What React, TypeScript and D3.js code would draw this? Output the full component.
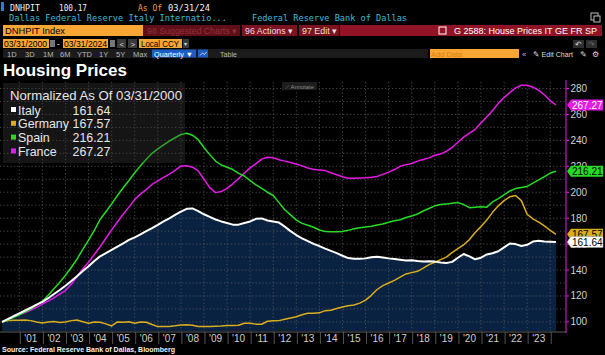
import React from 'react';
import * as d3 from 'd3';

// ---------- DATA (quarterly, 03/31/2000 = 100) ----------
const START = 2000.25;
const N_Q = 97;
const dates: number[] = d3.range(N_Q).map((i) => START + i * 0.25);

const italy = [
  100, 102.2, 104.4,
  106.6, 108.8, 111, 113.3,
  115.4, 118.3, 121.5, 124.6,
  127.9, 131.5, 135.3, 139.2,
  143, 147, 150.6, 153,
  155.5, 158, 160.5, 163.2,
  165.2, 167.5, 170, 172.3,
  174.8, 177.5, 179.8, 182.5,
  185, 187.2, 187.5, 185.5,
  183, 181, 179, 177.5,
  176.3, 175, 175, 176.3,
  177.5, 179.5, 179.8, 178.2,
  177.5, 176.6, 173.5, 170,
  167, 164.5, 162.3, 160.2,
  158.5, 156.5, 154.8, 153,
  151, 149.2, 148.7, 148.7,
  149, 149.8, 150.2, 149.6,
  149, 148.6, 148, 147.4,
  147.5, 147, 146.6, 146.8,
  146.5, 145.8, 145.5, 146.3,
  149.5, 152.4, 150.5, 148.3,
  149.5, 152, 153, 154.5,
  157.5, 160.5, 160, 158.6,
  159.5, 162, 162.5, 162,
  161.8, 161.64,
];

const germany = [
  100, 101, 101.2,
  101.3, 101.5, 101, 100,
  99.2, 100, 100.4, 99.5,
  100, 101, 101.5, 100.2,
  99, 100, 99.8, 98.5,
  96.9, 100, 99.8, 100.2,
  99, 100, 99.8, 98,
  96.4, 96.4, 96.5, 97,
  97.7, 97.9, 97.4, 96.4,
  96.5, 96.4, 96.6, 96.8,
  97.2, 97.3, 97.4, 99,
  99, 98.3, 98.2, 100.5,
  100.9, 101, 102, 103,
  104, 105.5, 106.7, 106.7,
  107, 108.7, 109, 110.4,
  111.5, 112.5, 113.1, 114.5,
  116.8, 120.5, 125, 128,
  130, 132, 134.5, 137,
  138, 139, 141.5, 144.2,
  146, 148, 150, 153.5,
  156.5, 159.5, 163.5, 169,
  173.5, 178.5, 184.5, 189.5,
  193.5, 196.5, 197.5, 193.5,
  183, 179.5, 177, 174,
  170.5, 167.57,
];

const spain = [
  100, 101.5, 103.5,
  105.5, 107.8, 110, 113,
  116, 120.5, 125.5, 130.5,
  136, 142, 148.5, 156,
  163, 170.5, 179, 185,
  191, 197.5, 203.5, 209,
  215, 220.5, 225.5, 230,
  233.5, 236.5, 239.5, 242,
  244.5, 245.5, 244, 240.5,
  234.5, 229, 224, 221,
  219.3, 217.5, 214.5, 212.5,
  209, 205.6, 203, 200,
  197.5, 192, 186.5, 182.5,
  178.5, 176, 174.5, 173,
  170.9, 169.8, 169.5, 169.6,
  169.8, 170.6, 171.8, 172.6,
  173.2, 173.8, 174.8, 175.5,
  176.8, 178, 178.8, 180.5,
  181.7, 183.2, 185.5, 187.5,
  189.5, 190.5, 191, 191.5,
  192, 190.5, 188.1, 188.5,
  188.8, 188.5, 192.5, 195,
  198, 201, 202.8, 203.6,
  204.5, 207, 209.5, 212,
  214.8, 216.21,
];

const france = [
  100, 101.8, 103.6,
  105.4, 107.2, 109.2, 111.2,
  113.8, 116, 118.5, 121.5,
  124.2, 129, 135, 141,
  146, 152, 158, 164.5,
  171, 177, 183, 188.5,
  194.5, 198.5, 202, 206,
  208.8, 211.5, 214, 216.8,
  220.3, 220.4, 219.3, 216.5,
  210, 203.5, 199.7, 200.5,
  203, 206.5, 210.5, 214.8,
  218.8, 222, 225.5, 227,
  226.5, 225, 224, 223,
  221.8, 220.3, 218.7, 217.5,
  217.2, 216.7, 215, 213.5,
  212, 210.8, 210.8, 211,
  211.2, 211.6, 212.2, 213.8,
  215.5, 217.5, 220, 221.3,
  222.2, 224, 225.3, 226.5,
  228.5, 229.5, 231.5, 234.5,
  238.5, 242.5, 245.5, 248.5,
  253.5, 258, 263, 268.5,
  273, 276.8, 280.5, 282.5,
  282.5, 281, 278.5, 275,
  270.5, 267.27,
];

const seriesNames = ['Italy', 'Germany', 'Spain', 'France'];
const seriesColors = ['#ffffff', '#d9ad1c', '#22dd22', '#e619e6'];
const lastValues = ['161.64', '167.57', '216.21', '267.27'];
const yTickValues = [100, 120, 140, 160, 180, 200, 220, 240, 260, 280];
const xYears = d3.range(2001, 2024);
const xTickLabels = xYears.map((yr) => "'" + String(yr).slice(2));

const FONT = '"Liberation Sans", Arial, sans-serif';
const MONO = '"DejaVu Sans Mono", "Liberation Mono", monospace';

export default function App() {
  const W = 605;
  const H = 355;
  const plot = { left: 0, right: 566, top: 82, bottom: 331 };
  const x = d3.scaleLinear().domain([2000.25, 2024.25]).range([2, 556]);
  const y = d3.scaleLinear().domain([93, 285]).range([plot.bottom, plot.top]);

  const line = d3
    .line<number>()
    .x((_, i) => x(dates[i]))
    .y((d) => y(d));
  const area = d3
    .area<number>()
    .x((_, i) => x(dates[i]))
    .y0(plot.bottom)
    .y1((d) => y(d));

  const series = [italy, germany, spain, france];
  const hGrid = d3.range(100, 290, 10);
  const vGrid = d3.range(2001, 2025);

  // tags order: draw France, Spain, Germany, Italy (Italy on top)
  const tagOrder = [3, 2, 1, 0];
  const tagTextColor = ['#000', '#000', '#000', '#fff'];

  return (
    <svg
      width={W}
      height={H}
      viewBox={`0 0 ${W} ${H}`}
      style={{ position: 'absolute', left: 0, top: 0, background: '#000' }}
    >
      <rect x={0} y={0} width={W} height={H} fill="#000" />

      {/* ---------- Header ---------- */}
      <rect x={1} y={2} width={3} height={9} fill="#2a7be4" />
      <text x={10} y={10.5} fill="#f2f2f2" fontFamily={MONO} fontSize={9.5} textLength={30} lengthAdjust="spacingAndGlyphs">DNHPIT</text>
      <text x={59} y={10.5} fill="#f2f2f2" fontFamily={MONO} fontSize={9.5} textLength={28} lengthAdjust="spacingAndGlyphs">100.17</text>
      <text x={138} y={10.5} fill="#f0a03a" fontFamily={MONO} fontSize={9.5} textLength={24} lengthAdjust="spacingAndGlyphs">As Of</text>
      <text x={168} y={10.5} fill="#f2f2f2" fontFamily={MONO} fontSize={9.5} textLength={42} lengthAdjust="spacingAndGlyphs">03/31/24</text>
      <text x={9} y={21} fill="#3dbcd6" fontFamily={MONO} fontSize={9.5} textLength={218} lengthAdjust="spacingAndGlyphs">Dallas Federal Reserve Italy Internatio...</text>
      <text x={252} y={21} fill="#3dbcd6" fontFamily={MONO} fontSize={9.5} textLength={155} lengthAdjust="spacingAndGlyphs">Federal Reserve Bank of Dallas</text>
      <rect x={591} y={13} width={7} height={7} fill="none" stroke="#bbb" strokeWidth={1} />
      <rect x={594} y={16} width={6} height={6} fill="#000" stroke="#bbb" strokeWidth={1} />

      {/* row 3 */}
      <rect x={3} y={25} width={140} height={11} fill="#f7a634" />
      <text x={5} y={34} fill="#000" fontFamily={FONT} fontSize={9.5} textLength={60} lengthAdjust="spacingAndGlyphs">DNHPIT Index</text>
      <rect x={143} y={25} width={97} height={11} fill="#5e0f18" />
      <text x={147} y={34} fill="#93303b" fontFamily={FONT} fontSize={9} textLength={90} lengthAdjust="spacingAndGlyphs">98 Suggested Charts ▾</text>
      <rect x={242} y={25} width={55} height={11} fill="#7b1321" />
      <text x={245} y={34} fill="#f0dede" fontFamily={FONT} fontSize={9} textLength={48} lengthAdjust="spacingAndGlyphs">96 Actions ▾</text>
      <rect x={299} y={25} width={40} height={11} fill="#7b1321" />
      <text x={302} y={34} fill="#f0dede" fontFamily={FONT} fontSize={9} textLength={35} lengthAdjust="spacingAndGlyphs">97 Edit ▾</text>
      <rect x={340} y={25} width={262} height={11} fill="#911426" />
      <rect x={439} y={27} width={7} height={7} fill="none" stroke="#fff" strokeWidth={1} />
      <text x={454} y={34} fill="#ffffff" fontFamily={FONT} fontSize={9.5} textLength={143} lengthAdjust="spacingAndGlyphs">G 2588: House Prices IT GE FR SP</text>

      {/* row 4 */}
      <rect x={3} y={39} width={46} height={9} fill="#f7a634" />
      <text x={4} y={46.5} fill="#000" fontFamily={FONT} fontSize={8.5} textLength={43} lengthAdjust="spacingAndGlyphs">03/31/2000</text>
      <rect x={50} y={40} width={5} height={7} fill="#777" />
      <text x={57} y={46.5} fill="#ddd" fontFamily={FONT} fontSize={8.5}>-</text>
      <rect x={63} y={39} width={45} height={9} fill="#f7a634" />
      <text x={64} y={46.5} fill="#000" fontFamily={FONT} fontSize={8.5} textLength={43} lengthAdjust="spacingAndGlyphs">03/31/2024</text>
      <rect x={110} y={40} width={5} height={7} fill="#777" />
      <rect x={117} y={39} width={9} height={9} fill="#3a3a3a" />
      <text x={119.5} y={46.5} fill="#ddd" fontFamily={FONT} fontSize={8}>&lt;</text>
      <rect x={128} y={39} width={9} height={9} fill="#3a3a3a" />
      <text x={130.5} y={46.5} fill="#ddd" fontFamily={FONT} fontSize={8}>&gt;</text>
      <rect x={139} y={39} width={43} height={9} fill="#f7a634" />
      <text x={141} y={46.5} fill="#000" fontFamily={FONT} fontSize={8.5} textLength={38} lengthAdjust="spacingAndGlyphs">Local CCY</text>
      <rect x={183} y={39} width={6} height={9} fill="#3a3a3a" />
      <text x={184} y={46} fill="#ddd" fontFamily={FONT} fontSize={6}>▾</text>
      <rect x={573} y={40} width={11} height={8} fill="#2e2e2e" />
      <text x={575} y={47} fill="#ccc" fontFamily={FONT} fontSize={7.5}>↶</text>
      <rect x={586} y={40} width={11} height={8} fill="#2e2e2e" />
      <text x={588} y={47} fill="#666" fontFamily={FONT} fontSize={7.5}>↷</text>

      {/* row 5 */}
      <rect x={3} y={49} width={425} height={9} fill="#1b1b1b" />
      {[
        ['1D', 7], ['3D', 25], ['1M', 43], ['6M', 60], ['YTD', 77], ['1Y', 99], ['5Y', 116], ['Max', 133],
      ].map(([t, px]) => (
        <text key={t as string} x={px as number} y={56.5} fill="#b8b8b8" fontFamily={FONT} fontSize={7.5}>{t}</text>
      ))}
      <rect x={152} y={49.5} width={44} height={8} fill="#1d5cc4" />
      <text x={154} y={56.5} fill="#fff" fontFamily={FONT} fontSize={7.5} textLength={39} lengthAdjust="spacingAndGlyphs">Quarterly ▼</text>
      <rect x={198} y={49.5} width={10} height={8} fill="#1d5cc4" />
      <path d="M200,55.5 L202.5,53 L204.5,54.5 L206.5,52" fill="none" stroke="#fff" strokeWidth={0.7} />
      <text x={220} y={56.5} fill="#b8b8b8" fontFamily={FONT} fontSize={7.5} textLength={17} lengthAdjust="spacingAndGlyphs">Table</text>
      <rect x={430} y={49} width={89} height={9} fill="#f7a634" />
      <text x={431} y={56.5} fill="#e07f10" fontFamily={FONT} fontSize={7.5}>Add Data</text>
      <text x={522} y={56.5} fill="#bbb" fontFamily={FONT} fontSize={7.5}>«</text>
      <text x={533} y={56.5} fill="#ddd" fontFamily={FONT} fontSize={7.5} textLength={40} lengthAdjust="spacingAndGlyphs">✎ Edit Chart</text>
      <text x={580} y={56.5} fill="#ddd" fontFamily={FONT} fontSize={7.5}>✎</text>
      <text x={592} y={56.8} fill="#ddd" fontFamily={FONT} fontSize={8}>⚙</text>

      {/* Title */}
      <text x={3} y={76} fill="#ffffff" fontFamily={FONT} fontWeight="bold" fontSize={17} textLength={124} lengthAdjust="spacingAndGlyphs">Housing Prices</text>

      {/* ---------- Plot ---------- */}
      <path d={area(italy) || ''} fill="#0a2242" />

      {hGrid.map((v) => (
        <line key={'h' + v} x1={plot.left} x2={plot.right} y1={y(v)} y2={y(v)} stroke="#5a5a5a" strokeWidth={0.8} strokeDasharray="1.2 2.3" />
      ))}
      {vGrid.map((yr) => (
        <line key={'v' + yr} x1={x(yr)} x2={x(yr)} y1={plot.top} y2={plot.bottom} stroke="#5a5a5a" strokeWidth={0.8} strokeDasharray="1.2 2.3" />
      ))}

      {/* Annotate button */}
      <rect x={282} y={82} width={35} height={8} fill="#1e1e1e" />
      <text x={285} y={88.5} fill="#8a8a8a" fontFamily={FONT} fontSize={5.5} textLength={29} lengthAdjust="spacingAndGlyphs">⟋ Annotate</text>

      {[1, 3, 2, 0].map((k) => (
        <path
          key={seriesNames[k]}
          d={line(series[k]) || ''}
          fill="none"
          stroke={seriesColors[k]}
          strokeWidth={k === 0 ? 2 : 1.5}
          strokeLinejoin="round"
        />
      ))}

      {/* Legend */}
      <rect x={3} y={83} width={182} height={80} fill="rgba(60,60,60,0.35)" />
      <text x={10} y={100} fill="#e6e6e6" fontFamily={FONT} fontSize={13} textLength={172} lengthAdjust="spacingAndGlyphs">Normalized As Of 03/31/2000</text>
      {seriesNames.map((nm, i) => (
        <g key={'lg' + nm} transform={`translate(0, ${114.5 + i * 13.8})`}>
          <rect x={11} y={-7.5} width={5} height={5} fill={seriesColors[i]} />
          <text x={18} y={0} fill="#e6e6e6" fontFamily={FONT} fontSize={12.4}>{nm}</text>
          <text x={72.5} y={0} fill="#e6e6e6" fontFamily={FONT} fontSize={12.4}>{lastValues[i]}</text>
        </g>
      ))}

      {/* Bottom axis */}
      <line x1={plot.left} x2={plot.right} y1={plot.bottom + 1} y2={plot.bottom + 1} stroke="#5c5c5c" strokeWidth={1} />
      {vGrid.map((yr) => (
        <line key={'s' + yr} x1={x(yr) + 1} x2={x(yr) + 1} y1={plot.bottom + 1} y2={plot.bottom + 13} stroke="#6a6a6a" strokeWidth={0.8} />
      ))}
      {xYears.map((yr, i) => (
        <text key={'xl' + yr} x={x(yr + 0.5)} y={341.5} fill="#cfcfcf" fontFamily={FONT} fontSize={10} textAnchor="middle">
          {xTickLabels[i]}
        </text>
      ))}

      {/* Right axis */}
      <line x1={plot.right} x2={plot.right} y1={plot.top - 2} y2={plot.bottom + 2} stroke="#e020e0" strokeWidth={1} />
      {yTickValues.map((v) => (
        <g key={'yt' + v}>
          <line x1={plot.right} x2={plot.right + 3} y1={y(v)} y2={y(v)} stroke="#e020e0" strokeWidth={1} />
          <text x={plot.right + 4.5} y={y(v)} dy="0.35em" fill="#d0d0d0" fontFamily={FONT} fontSize={10}>{v}</text>
        </g>
      ))}

      {/* Last value tags */}
      {tagOrder.map((k) => {
        const ty = y(+lastValues[k]);
        const x0 = plot.right + 1;
        return (
          <g key={'tag' + k}>
            <path
              d={`M${x0},${ty} L${x0 + 4},${ty - 5.5} L${x0 + 36},${ty - 5.5} L${x0 + 36},${ty + 5.5} L${x0 + 4},${ty + 5.5} Z`}
              fill={seriesColors[k]}
              stroke={k === 0 ? '#999' : 'none'}
              strokeWidth={0.5}
            />
            <text x={x0 + 5} y={ty} dy="0.36em" fill={tagTextColor[k]} fontFamily={FONT} fontSize={10}>{lastValues[k]}</text>
          </g>
        );
      })}

      {/* Source */}
      <text x={2} y={352} fill="#f0f0f0" fontFamily={FONT} fontWeight="bold" fontSize={6.5} textLength={173} lengthAdjust="spacingAndGlyphs">Source: Federal Reserve Bank of Dallas, Bloomberg</text>
    </svg>
  );
}
